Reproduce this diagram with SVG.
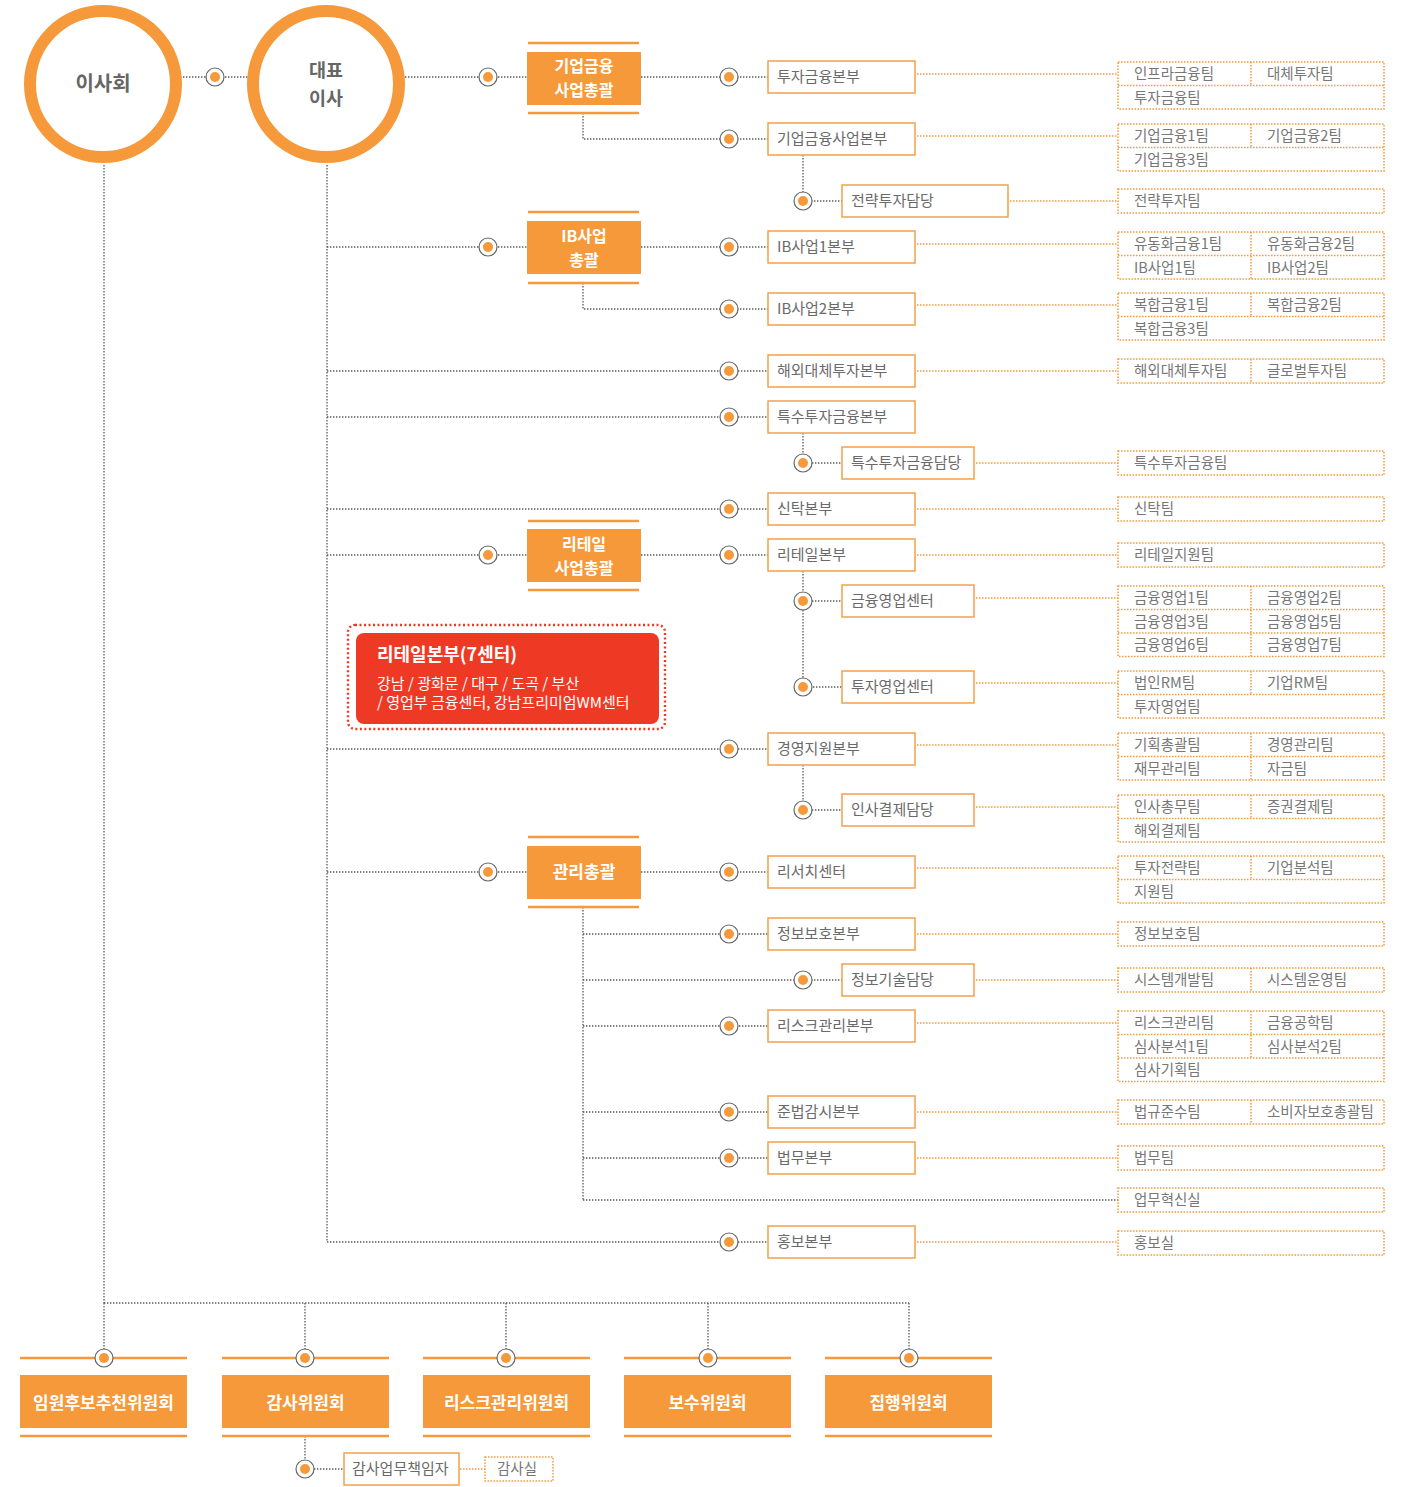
<svg xmlns="http://www.w3.org/2000/svg" xmlns:xlink="http://www.w3.org/1999/xlink" width="1407" height="1487" viewBox="0 0 1407 1487">
<style>
text{font-family:"Noto Sans CJK KR","Noto Sans",sans-serif}
.c{fill:none;stroke:#5a5a5a;stroke-width:1.3;stroke-dasharray:1.4 1.6}
.oc{fill:none;stroke:#F59A3C;stroke-width:1.5;stroke-dasharray:1.5 1.5}
.mb{fill:#fff;stroke:#F5A04A;stroke-width:1.5}
.tb{fill:none;stroke:#F59A3C;stroke-width:1.5;stroke-dasharray:1.5 1.5}
.mt{font-size:15px;fill:#6a6a6a}
.tt{font-size:14.5px;fill:#777}
.hb{fill:#F5993B}
.hl{stroke:#F5993B;stroke-width:2.6}
.ht{fill:#fff;font-weight:bold;font-size:16px;text-anchor:middle}
.ct{fill:#fff;font-weight:bold;font-size:17px;text-anchor:middle}
.big{fill:#666;font-weight:bold;font-size:20px;text-anchor:middle}
</style>
<defs>
<g id="b"><circle r="9" fill="#fff" stroke="#666" stroke-width="1.2"/><circle r="5" fill="#F5993B"/></g>
</defs>

<g id="connectors">
<line class="c" x1="180" y1="77" x2="248" y2="77"/>
<line class="c" x1="405" y1="77" x2="527" y2="77"/>
<line class="c" x1="641" y1="77" x2="768" y2="77"/>
<polyline class="c" points="583,113 583,139 768,139"/>
<line class="c" x1="104" y1="165" x2="104" y2="1303"/>
<line class="c" x1="327" y1="165" x2="327" y2="1242"/>
<line class="c" x1="327" y1="247" x2="527" y2="247"/>
<line class="c" x1="641" y1="247" x2="768" y2="247"/>
<polyline class="c" points="583,283 583,309 768,309"/>
<line class="c" x1="327" y1="371" x2="768" y2="371"/>
<line class="c" x1="327" y1="417" x2="768" y2="417"/>
<line class="c" x1="327" y1="509" x2="768" y2="509"/>
<line class="c" x1="327" y1="555" x2="527" y2="555"/>
<line class="c" x1="641" y1="555" x2="768" y2="555"/>
<line class="c" x1="327" y1="749" x2="768" y2="749"/>
<line class="c" x1="327" y1="872" x2="527" y2="872"/>
<line class="c" x1="641" y1="872" x2="768" y2="872"/>
<line class="c" x1="327" y1="1242" x2="768" y2="1242"/>
<polyline class="c" points="803,155 803,201 842,201"/>
<polyline class="c" points="803,433 803,463 842,463"/>
<polyline class="c" points="803,571 803,687 842,687"/>
<line class="c" x1="803" y1="601" x2="842" y2="601"/>
<polyline class="c" points="803,765 803,810 842,810"/>
<line class="c" x1="583" y1="907" x2="583" y2="1200"/>
<line class="c" x1="583" y1="934" x2="768" y2="934"/>
<line class="c" x1="583" y1="980" x2="842" y2="980"/>
<line class="c" x1="583" y1="1026" x2="768" y2="1026"/>
<line class="c" x1="583" y1="1112" x2="768" y2="1112"/>
<line class="c" x1="583" y1="1158" x2="768" y2="1158"/>
<line class="c" x1="583" y1="1200" x2="1118" y2="1200"/>
<line class="c" x1="104" y1="1303" x2="909" y2="1303"/>
<line class="c" x1="305" y1="1303" x2="305" y2="1358"/>
<line class="c" x1="506" y1="1303" x2="506" y2="1358"/>
<line class="c" x1="708" y1="1303" x2="708" y2="1358"/>
<line class="c" x1="909" y1="1303" x2="909" y2="1358"/>
<line class="c" x1="104" y1="1303" x2="104" y2="1358"/>
<polyline class="c" points="305,1436 305,1469 344,1469"/>
<line class="oc" x1="917" y1="74" x2="1118" y2="74"/>
<line class="oc" x1="917" y1="136" x2="1118" y2="136"/>
<line class="oc" x1="1010" y1="201" x2="1118" y2="201"/>
<line class="oc" x1="917" y1="244" x2="1118" y2="244"/>
<line class="oc" x1="917" y1="305" x2="1118" y2="305"/>
<line class="oc" x1="917" y1="371" x2="1118" y2="371"/>
<line class="oc" x1="976" y1="463" x2="1118" y2="463"/>
<line class="oc" x1="917" y1="509" x2="1118" y2="509"/>
<line class="oc" x1="917" y1="555" x2="1118" y2="555"/>
<line class="oc" x1="976" y1="598" x2="1118" y2="598"/>
<line class="oc" x1="976" y1="683" x2="1118" y2="683"/>
<line class="oc" x1="917" y1="745" x2="1118" y2="745"/>
<line class="oc" x1="976" y1="807" x2="1118" y2="807"/>
<line class="oc" x1="917" y1="868" x2="1118" y2="868"/>
<line class="oc" x1="917" y1="934" x2="1118" y2="934"/>
<line class="oc" x1="976" y1="980" x2="1118" y2="980"/>
<line class="oc" x1="917" y1="1023" x2="1118" y2="1023"/>
<line class="oc" x1="917" y1="1112" x2="1118" y2="1112"/>
<line class="oc" x1="917" y1="1158" x2="1118" y2="1158"/>
<line class="oc" x1="917" y1="1242" x2="1118" y2="1242"/>
<line class="oc" x1="460" y1="1469" x2="485" y2="1469"/>
</g>

<g id="board"><circle cx="103" cy="84" r="73" fill="#fff" stroke="#F5993B" stroke-width="12"/><text class="big" x="103" y="91">이사회</text></g>
<g id="ceo"><circle cx="326" cy="84" r="73" fill="#fff" stroke="#F5993B" stroke-width="12"/><text class="big" x="326" y="77" style="font-size:18.5px">대표</text><text class="big" x="326" y="105" style="font-size:18.5px">이사</text></g>

<g id="h1"><line class="hl" x1="528" y1="43" x2="639" y2="43"/><rect class="hb" x="527" y="52" width="114" height="53"/><line class="hl" x1="528" y1="113" x2="639" y2="113"/><text class="ht" x="584" y="72">기업금융</text><text class="ht" x="584" y="95.5">사업총괄</text></g>
<g id="h2"><line class="hl" x1="528" y1="212" x2="639" y2="212"/><rect class="hb" x="527" y="221" width="114" height="53"/><line class="hl" x1="528" y1="283" x2="639" y2="283"/><text class="ht" x="584" y="242">IB사업</text><text class="ht" x="584" y="265.5">총괄</text></g>
<g id="h3"><line class="hl" x1="528" y1="521" x2="639" y2="521"/><rect class="hb" x="527" y="529" width="114" height="53"/><line class="hl" x1="528" y1="590" x2="639" y2="590"/><text class="ht" x="584" y="550">리테일</text><text class="ht" x="584" y="573.5">사업총괄</text></g>
<g id="h4"><line class="hl" x1="528" y1="837" x2="639" y2="837"/><rect class="hb" x="527" y="846" width="114" height="53"/><line class="hl" x1="528" y1="907" x2="639" y2="907"/><text class="ht" x="584" y="878" style="font-size:17px">관리총괄</text></g>

<g id="m1"><rect class="mb" x="768" y="61" width="147" height="32"/><text class="mt" x="777" y="82">투자금융본부</text></g>
<g id="m2"><rect class="mb" x="768" y="123" width="147" height="32"/><text class="mt" x="777" y="144">기업금융사업본부</text></g>
<g id="s1"><rect class="mb" x="842" y="185" width="166" height="32"/><text class="mt" x="851" y="206">전략투자담당</text></g>
<g id="m3"><rect class="mb" x="768" y="231" width="147" height="32"/><text class="mt" x="777" y="252">IB사업1본부</text></g>
<g id="m4"><rect class="mb" x="768" y="293" width="147" height="32"/><text class="mt" x="777" y="314">IB사업2본부</text></g>
<g id="m5"><rect class="mb" x="768" y="355" width="147" height="32"/><text class="mt" x="777" y="376">해외대체투자본부</text></g>
<g id="m6"><rect class="mb" x="768" y="401" width="147" height="32"/><text class="mt" x="777" y="422">특수투자금융본부</text></g>
<g id="s2"><rect class="mb" x="842" y="447" width="132" height="32"/><text class="mt" x="851" y="468">특수투자금융담당</text></g>
<g id="m7"><rect class="mb" x="768" y="493" width="147" height="32"/><text class="mt" x="777" y="514">신탁본부</text></g>
<g id="m8"><rect class="mb" x="768" y="539" width="147" height="32"/><text class="mt" x="777" y="560">리테일본부</text></g>
<g id="s3"><rect class="mb" x="842" y="585" width="132" height="32"/><text class="mt" x="851" y="606">금융영업센터</text></g>
<g id="s4"><rect class="mb" x="842" y="671" width="132" height="32"/><text class="mt" x="851" y="692">투자영업센터</text></g>
<g id="m9"><rect class="mb" x="768" y="733" width="147" height="32"/><text class="mt" x="777" y="754">경영지원본부</text></g>
<g id="s5"><rect class="mb" x="842" y="794" width="132" height="32"/><text class="mt" x="851" y="815">인사결제담당</text></g>
<g id="m10"><rect class="mb" x="768" y="856" width="147" height="32"/><text class="mt" x="777" y="877">리서치센터</text></g>
<g id="m11"><rect class="mb" x="768" y="918" width="147" height="32"/><text class="mt" x="777" y="939">정보보호본부</text></g>
<g id="s6"><rect class="mb" x="842" y="964" width="132" height="32"/><text class="mt" x="851" y="985">정보기술담당</text></g>
<g id="m12"><rect class="mb" x="768" y="1010" width="147" height="32"/><text class="mt" x="777" y="1031">리스크관리본부</text></g>
<g id="m13"><rect class="mb" x="768" y="1096" width="147" height="32"/><text class="mt" x="777" y="1117">준법감시본부</text></g>
<g id="m14"><rect class="mb" x="768" y="1142" width="147" height="32"/><text class="mt" x="777" y="1163">법무본부</text></g>
<g id="m15"><rect class="mb" x="768" y="1226" width="147" height="32"/><text class="mt" x="777" y="1247">홍보본부</text></g>

<g id="t1" transform="translate(1118,62)"><rect class="tb" width="266" height="47"/><line class="tb" x1="0" y1="23.5" x2="266" y2="23.5"/><line class="tb" x1="133" y1="0" x2="133" y2="23.5"/><text class="tt" x="16" y="17">인프라금융팀</text><text class="tt" x="149" y="17">대체투자팀</text><text class="tt" x="16" y="40.5">투자금융팀</text></g>
<g id="t2" transform="translate(1118,124)"><rect class="tb" width="266" height="47"/><line class="tb" x1="0" y1="23.5" x2="266" y2="23.5"/><line class="tb" x1="133" y1="0" x2="133" y2="23.5"/><text class="tt" x="16" y="17">기업금융1팀</text><text class="tt" x="149" y="17">기업금융2팀</text><text class="tt" x="16" y="40.5">기업금융3팀</text></g>
<g id="t3" transform="translate(1118,189)"><rect class="tb" width="266" height="24"/><text class="tt" x="16" y="17">전략투자팀</text></g>
<g id="t4" transform="translate(1118,232)"><rect class="tb" width="266" height="47"/><line class="tb" x1="0" y1="23.5" x2="266" y2="23.5"/><line class="tb" x1="133" y1="0" x2="133" y2="47"/><text class="tt" x="16" y="17">유동화금융1팀</text><text class="tt" x="149" y="17">유동화금융2팀</text><text class="tt" x="16" y="40.5">IB사업1팀</text><text class="tt" x="149" y="40.5">IB사업2팀</text></g>
<g id="t5" transform="translate(1118,293)"><rect class="tb" width="266" height="47"/><line class="tb" x1="0" y1="23.5" x2="266" y2="23.5"/><line class="tb" x1="133" y1="0" x2="133" y2="23.5"/><text class="tt" x="16" y="17">복합금융1팀</text><text class="tt" x="149" y="17">복합금융2팀</text><text class="tt" x="16" y="40.5">복합금융3팀</text></g>
<g id="t6" transform="translate(1118,359)"><rect class="tb" width="266" height="24"/><line class="tb" x1="133" y1="0" x2="133" y2="24"/><text class="tt" x="16" y="17">해외대체투자팀</text><text class="tt" x="149" y="17">글로벌투자팀</text></g>
<g id="t7" transform="translate(1118,451)"><rect class="tb" width="266" height="24"/><text class="tt" x="16" y="17">특수투자금융팀</text></g>
<g id="t8" transform="translate(1118,497)"><rect class="tb" width="266" height="24"/><text class="tt" x="16" y="17">신탁팀</text></g>
<g id="t9" transform="translate(1118,543)"><rect class="tb" width="266" height="24"/><text class="tt" x="16" y="17">리테일지원팀</text></g>
<g id="t10" transform="translate(1118,586)"><rect class="tb" width="266" height="70.5"/><line class="tb" x1="0" y1="23.5" x2="266" y2="23.5"/><line class="tb" x1="0" y1="47" x2="266" y2="47"/><line class="tb" x1="133" y1="0" x2="133" y2="70.5"/><text class="tt" x="16" y="17">금융영업1팀</text><text class="tt" x="149" y="17">금융영업2팀</text><text class="tt" x="16" y="40.5">금융영업3팀</text><text class="tt" x="149" y="40.5">금융영업5팀</text><text class="tt" x="16" y="64">금융영업6팀</text><text class="tt" x="149" y="64">금융영업7팀</text></g>
<g id="t11" transform="translate(1118,671)"><rect class="tb" width="266" height="47"/><line class="tb" x1="0" y1="23.5" x2="266" y2="23.5"/><line class="tb" x1="133" y1="0" x2="133" y2="23.5"/><text class="tt" x="16" y="17">법인RM팀</text><text class="tt" x="149" y="17">기업RM팀</text><text class="tt" x="16" y="40.5">투자영업팀</text></g>
<g id="t12" transform="translate(1118,733)"><rect class="tb" width="266" height="47"/><line class="tb" x1="0" y1="23.5" x2="266" y2="23.5"/><line class="tb" x1="133" y1="0" x2="133" y2="47"/><text class="tt" x="16" y="17">기획총괄팀</text><text class="tt" x="149" y="17">경영관리팀</text><text class="tt" x="16" y="40.5">재무관리팀</text><text class="tt" x="149" y="40.5">자금팀</text></g>
<g id="t13" transform="translate(1118,795)"><rect class="tb" width="266" height="47"/><line class="tb" x1="0" y1="23.5" x2="266" y2="23.5"/><line class="tb" x1="133" y1="0" x2="133" y2="23.5"/><text class="tt" x="16" y="17">인사총무팀</text><text class="tt" x="149" y="17">증권결제팀</text><text class="tt" x="16" y="40.5">해외결제팀</text></g>
<g id="t14" transform="translate(1118,856)"><rect class="tb" width="266" height="47"/><line class="tb" x1="0" y1="23.5" x2="266" y2="23.5"/><line class="tb" x1="133" y1="0" x2="133" y2="23.5"/><text class="tt" x="16" y="17">투자전략팀</text><text class="tt" x="149" y="17">기업분석팀</text><text class="tt" x="16" y="40.5">지원팀</text></g>
<g id="t15" transform="translate(1118,922)"><rect class="tb" width="266" height="24"/><text class="tt" x="16" y="17">정보보호팀</text></g>
<g id="t16" transform="translate(1118,968)"><rect class="tb" width="266" height="24"/><line class="tb" x1="133" y1="0" x2="133" y2="24"/><text class="tt" x="16" y="17">시스템개발팀</text><text class="tt" x="149" y="17">시스템운영팀</text></g>
<g id="t17" transform="translate(1118,1011)"><rect class="tb" width="266" height="70.5"/><line class="tb" x1="0" y1="23.5" x2="266" y2="23.5"/><line class="tb" x1="0" y1="47" x2="266" y2="47"/><line class="tb" x1="133" y1="0" x2="133" y2="47"/><text class="tt" x="16" y="17">리스크관리팀</text><text class="tt" x="149" y="17">금융공학팀</text><text class="tt" x="16" y="40.5">심사분석1팀</text><text class="tt" x="149" y="40.5">심사분석2팀</text><text class="tt" x="16" y="64">심사기획팀</text></g>
<g id="t18" transform="translate(1118,1100)"><rect class="tb" width="266" height="24"/><line class="tb" x1="133" y1="0" x2="133" y2="24"/><text class="tt" x="16" y="17">법규준수팀</text><text class="tt" x="149" y="17">소비자보호총괄팀</text></g>
<g id="t19" transform="translate(1118,1146)"><rect class="tb" width="266" height="24"/><text class="tt" x="16" y="17">법무팀</text></g>
<g id="t20" transform="translate(1118,1188)"><rect class="tb" width="266" height="24"/><text class="tt" x="16" y="17">업무혁신실</text></g>
<g id="t21" transform="translate(1118,1231)"><rect class="tb" width="266" height="24"/><text class="tt" x="16" y="17">홍보실</text></g>

<g id="retail-note">
<rect x="348" y="625" width="317" height="104" rx="7" fill="none" stroke="#EE3A24" stroke-width="2.4" stroke-dasharray="2 2.5"/>
<rect x="356" y="633" width="303" height="91" rx="8" fill="#EE3A24"/>
<text x="377" y="661" fill="#fff" font-weight="bold" font-size="18px">리테일본부(7센터)</text>
<text x="377" y="689" fill="#fff" font-size="15px">강남 / 광화문 / 대구 / 도곡 / 부산</text>
<text x="377" y="708" fill="#fff" font-size="15px">/ 영업부 금융센터, 강남프리미엄WM센터</text>
</g>

<g id="com1"><line class="hl" x1="20" y1="1358" x2="187" y2="1358"/><rect class="hb" x="20" y="1375" width="167" height="53"/><line class="hl" x1="20" y1="1436" x2="187" y2="1436"/><text class="ct" x="103.5" y="1409">임원후보추천위원회</text></g>
<g id="com2"><line class="hl" x1="222" y1="1358" x2="389" y2="1358"/><rect class="hb" x="222" y="1375" width="167" height="53"/><line class="hl" x1="222" y1="1436" x2="389" y2="1436"/><text class="ct" x="305.5" y="1409">감사위원회</text></g>
<g id="com3"><line class="hl" x1="423" y1="1358" x2="590" y2="1358"/><rect class="hb" x="423" y="1375" width="167" height="53"/><line class="hl" x1="423" y1="1436" x2="590" y2="1436"/><text class="ct" x="506.5" y="1409">리스크관리위원회</text></g>
<g id="com4"><line class="hl" x1="624" y1="1358" x2="791" y2="1358"/><rect class="hb" x="624" y="1375" width="167" height="53"/><line class="hl" x1="624" y1="1436" x2="791" y2="1436"/><text class="ct" x="707.5" y="1409">보수위원회</text></g>
<g id="com5"><line class="hl" x1="825" y1="1358" x2="992" y2="1358"/><rect class="hb" x="825" y="1375" width="167" height="53"/><line class="hl" x1="825" y1="1436" x2="992" y2="1436"/><text class="ct" x="908.5" y="1409">집행위원회</text></g>

<g id="audit-officer"><rect class="mb" x="344" y="1453" width="115" height="32"/><text class="mt" x="352" y="1474">감사업무책임자</text></g>
<g id="audit-office"><rect class="tb" x="485" y="1457" width="68" height="24"/><text class="tt" x="497" y="1474">감사실</text></g>

<g id="bullets">
<use xlink:href="#b" x="215" y="77"/>
<use xlink:href="#b" x="488" y="77"/><use xlink:href="#b" x="488" y="247"/><use xlink:href="#b" x="488" y="555"/><use xlink:href="#b" x="488" y="872"/>
<use xlink:href="#b" x="729" y="77"/><use xlink:href="#b" x="729" y="139"/><use xlink:href="#b" x="729" y="247"/><use xlink:href="#b" x="729" y="309"/><use xlink:href="#b" x="729" y="371"/><use xlink:href="#b" x="729" y="417"/><use xlink:href="#b" x="729" y="509"/><use xlink:href="#b" x="729" y="555"/><use xlink:href="#b" x="729" y="749"/><use xlink:href="#b" x="729" y="872"/><use xlink:href="#b" x="729" y="934"/><use xlink:href="#b" x="729" y="1026"/><use xlink:href="#b" x="729" y="1112"/><use xlink:href="#b" x="729" y="1158"/><use xlink:href="#b" x="729" y="1242"/>
<use xlink:href="#b" x="803" y="201"/><use xlink:href="#b" x="803" y="463"/><use xlink:href="#b" x="803" y="601"/><use xlink:href="#b" x="803" y="687"/><use xlink:href="#b" x="803" y="810"/><use xlink:href="#b" x="803" y="980"/>
<use xlink:href="#b" x="104" y="1358"/><use xlink:href="#b" x="305" y="1358"/><use xlink:href="#b" x="506" y="1358"/><use xlink:href="#b" x="708" y="1358"/><use xlink:href="#b" x="909" y="1358"/>
<use xlink:href="#b" x="305" y="1469"/>
</g>
</svg>
